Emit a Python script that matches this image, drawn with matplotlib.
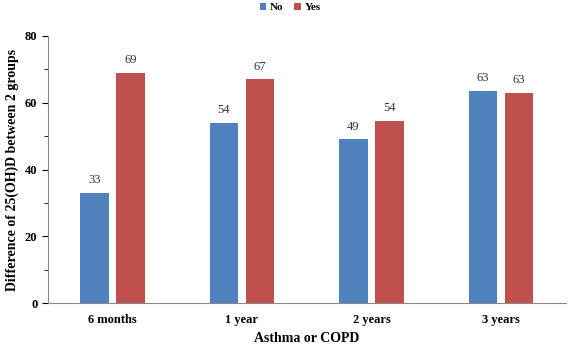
import numpy as np
import matplotlib
matplotlib.use("Agg")
import matplotlib.pyplot as plt
from matplotlib.ticker import MultipleLocator

categories = ["6 months", "1 year", "2 years", "3 years"]
no_values = [33, 54, 49, 63.5]
yes_values = [69, 67, 54.5, 63]
no_labels = ["33", "54", "49", "63"]
yes_labels = ["69", "67", "54", "63"]

plt.rcParams["font.family"] = ["Liberation Serif", "DejaVu Serif"]

fig = plt.figure(figsize=(5.69, 3.55), dpi=100)
ax = fig.add_axes([0.084, 0.146, 0.91, 0.753])

x = np.arange(len(categories))
w = 0.22
b1 = ax.bar(x - 0.14, no_values, w, color="#4F81BD", label="No")
b2 = ax.bar(x + 0.14, yes_values, w, color="#C0504D", label="Yes")

for bars, labels in [(b1, no_labels), (b2, yes_labels)]:
    for bar, lab in zip(bars, labels):
        ax.text(bar.get_x() + bar.get_width() / 2, bar.get_height() + 2, lab,
                ha="center", va="bottom", fontsize=9, color="#333333")

ax.set_xlim(-0.5, 3.5)
ax.set_ylim(0, 80)
ax.yaxis.set_major_locator(MultipleLocator(20))
ax.yaxis.set_minor_locator(MultipleLocator(10))
ax.set_xticks(x)
ax.set_xticklabels(categories, fontweight="bold", fontsize=9)
ax.tick_params(axis="x", length=0, pad=8)
ax.tick_params(axis="y", which="major", length=4, labelsize=9)
ax.tick_params(axis="y", which="minor", length=3)
for lab in ax.get_yticklabels():
    lab.set_fontweight("bold")

for s in ["top", "right"]:
    ax.spines[s].set_visible(False)
ax.spines["left"].set_color("#888888")
ax.spines["bottom"].set_color("#888888")

ax.set_xlabel("Asthma or COPD", fontweight="bold", fontsize=10, labelpad=4)
ax.set_ylabel("Difference of 25(OH)D between 2 groups", fontweight="bold", fontsize=10)

fig.legend(loc="upper center", bbox_to_anchor=(0.51, 1.02), ncol=2, frameon=False,
           prop={"weight": "bold", "size": 8}, handlelength=0.6, handleheight=0.6,
           columnspacing=1.0, handletextpad=0.3)

fig.savefig("out.png", dpi=100)
